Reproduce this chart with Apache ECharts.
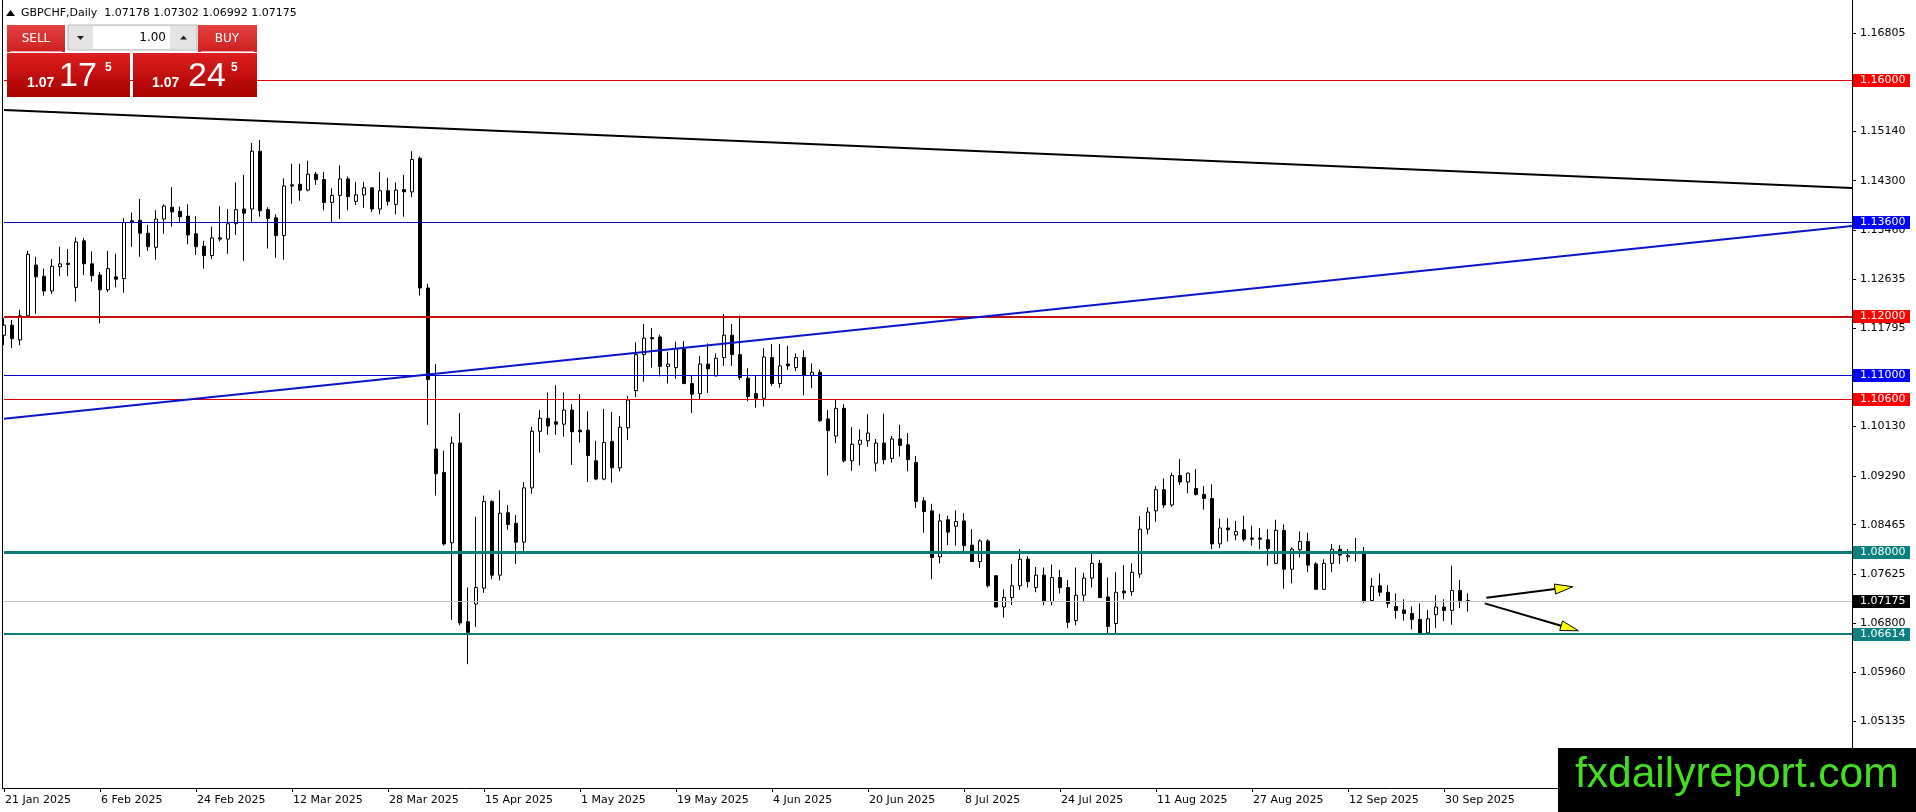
<!DOCTYPE html>
<html>
<head>
<meta charset="utf-8">
<script src="https://cdn.jsdelivr.net/npm/echarts@6/dist/echarts.min.js"></script>
<style>
html,body{margin:0;padding:0;background:#fff;overflow:hidden;}
#c{width:1916px;height:812px;}
</style>
</head>
<body>
<div id="c"></div>
<script>
// ---------- DATA ----------
const symbolTitle = 'GBPCHF,Daily  1.07178 1.07302 1.06992 1.07175';
const tradingDays = 184;   // 21 Jan 2025 .. 3 Oct 2025
const padBars = 48;        // empty chart shift on the right

const opens = [1.1168,1.1185,1.1160,1.1201,1.1287,1.1268,1.1243,1.1284,1.1290,1.1249,
1.1328,1.1289,1.1270,1.1245,1.1267,1.1264,1.1362,1.1363,1.1341,1.1317,
1.1365,1.1385,1.1378,1.1370,1.1340,1.1319,1.1303,1.1333,1.1331,1.1357,
1.1382,1.1382,1.1480,1.1381,1.1367,1.1337,1.1423,1.1424,1.1414,1.1441,
1.1432,1.1393,1.1405,1.1433,1.1395,1.1406,1.1418,1.1382,1.1413,1.1390,
1.1415,1.1411,1.1468,1.1248,1.0975,1.0935,1.0816,1.0985,1.0682,1.0712,
1.0739,1.0886,1.0761,1.0867,1.0849,1.0817,1.0909,1.1005,1.1027,1.1021,
1.1017,1.1041,1.1007,1.1007,1.0955,1.0924,1.0988,1.0943,1.1011,1.1074,
1.1135,1.1164,1.1165,1.1115,1.1113,1.1145,1.1086,1.1069,1.1119,1.1099,
1.1130,1.1168,1.1135,1.1095,1.1069,1.1061,1.1130,1.1086,1.1119,1.1113,
1.1130,1.1100,1.1105,1.1026,1.0997,1.1044,1.0955,1.0983,1.0989,1.0951,
1.0985,1.0959,1.0992,1.0982,1.0952,1.0887,1.0870,1.0792,1.0855,1.0844,
1.0853,1.0812,1.0784,1.0819,1.0760,1.0707,1.0723,1.0743,1.0788,1.0740,
1.0761,1.0716,1.0757,1.0740,1.0684,1.0727,1.0756,1.0781,1.0724,1.0679,
1.0734,1.0733,1.0763,1.0839,1.0870,1.0906,1.0880,1.0930,1.0919,1.0908,
1.0898,1.0891,1.0814,1.0841,1.0829,1.0838,1.0824,1.0824,1.0821,1.0781,
1.0837,1.0771,1.0804,1.0818,1.0780,1.0737,1.0781,1.0805,1.0792,1.0801,
1.0801,1.0718,1.0743,1.0732,1.0708,1.0702,1.0696,1.0686,1.0663,1.0694,
1.0707,1.0701,1.0735,1.07178];

const highs = [1.1197,1.1194,1.1211,1.1311,1.1301,1.1281,1.1297,1.1318,1.1314,1.1334,
1.1333,1.1310,1.1275,1.1311,1.1306,1.1366,1.1376,1.1399,1.1355,1.1380,
1.1390,1.1419,1.1386,1.1390,1.1370,1.1328,1.1352,1.1387,1.1382,1.1427,
1.1440,1.1494,1.1499,1.1385,1.1373,1.1434,1.1459,1.1459,1.1464,1.1445,
1.1445,1.1417,1.1456,1.1437,1.1428,1.1428,1.1419,1.1445,1.1435,1.1427,
1.1440,1.1480,1.1471,1.1255,1.1119,1.0972,1.0996,1.1036,1.0740,1.0860,
1.0896,1.0888,1.0905,1.0880,1.0863,1.0919,1.1013,1.1041,1.1071,1.1083,
1.1071,1.1051,1.1068,1.1039,1.0989,1.1043,1.1038,1.1031,1.1065,1.1156,
1.1187,1.1180,1.1169,1.1140,1.1157,1.1158,1.1099,1.1133,1.1154,1.1137,
1.1204,1.1187,1.1201,1.1112,1.1099,1.1146,1.1153,1.1153,1.1150,1.1137,
1.1143,1.1120,1.1110,1.1041,1.1059,1.1051,1.1012,1.1008,1.1034,1.0992,
1.1035,1.0997,1.1016,1.1002,1.0963,1.0893,1.0882,1.0865,1.0862,1.0871,
1.0866,1.0839,1.0822,1.0822,1.0761,1.0737,1.0780,1.0805,1.0793,1.0775,
1.0774,1.0779,1.0770,1.0753,1.0774,1.0765,1.0800,1.0787,1.0757,1.0766,
1.0778,1.0781,1.0861,1.0876,1.0912,1.0925,1.0935,1.0958,1.0935,1.0941,
1.0912,1.0915,1.0857,1.0858,1.0853,1.0862,1.0845,1.0841,1.0839,1.0855,
1.0847,1.0808,1.0835,1.0833,1.0783,1.0788,1.0814,1.0812,1.0805,1.0824,
1.0809,1.0756,1.0764,1.0744,1.0730,1.0720,1.0708,1.0713,1.0702,1.0727,
1.0720,1.0777,1.0753,1.07302];

const lows = [1.1151,1.1146,1.1151,1.1200,1.1204,1.1235,1.1238,1.1268,1.1268,1.1225,
1.1270,1.1259,1.1188,1.1241,1.1249,1.1240,1.1318,1.1301,1.1311,1.1296,
1.1340,1.1352,1.1359,1.1322,1.1304,1.1281,1.1297,1.1327,1.1306,1.1338,
1.1294,1.1358,1.1369,1.1315,1.1299,1.1296,1.1391,1.1396,1.1412,1.1423,
1.1380,1.1360,1.1365,1.1380,1.1389,1.1384,1.1377,1.1373,1.1388,1.1373,
1.1369,1.1402,1.1235,1.1016,1.0896,1.0811,1.0685,1.0676,1.0610,1.0673,
1.0731,1.0754,1.0752,1.0838,1.0780,1.0797,1.0899,1.0969,1.0999,1.0999,
1.0996,1.0948,1.0986,1.0919,1.0922,1.0922,1.0918,1.0937,1.0990,1.1063,
1.1089,1.1113,1.1098,1.1086,1.1094,1.1085,1.1036,1.1059,1.1070,1.1098,
1.1116,1.1116,1.1092,1.1056,1.1045,1.1047,1.1082,1.1079,1.1109,1.1107,
1.1066,1.1078,1.1021,1.0930,1.0985,1.0952,1.0938,1.0947,1.0979,1.0937,
1.0949,1.0952,1.0962,1.0937,1.0875,1.0833,1.0754,1.0781,1.0812,1.0811,
1.0802,1.0784,1.0773,1.0740,1.0706,1.0689,1.0710,1.0736,1.0740,1.0732,
1.0710,1.0710,1.0730,1.0671,1.0676,1.0716,1.0740,1.0722,1.0662,1.0662,
1.0720,1.0726,1.0756,1.0830,1.0851,1.0875,1.0877,1.0914,1.0900,1.0896,
1.0872,1.0805,1.0807,1.0818,1.0820,1.0818,1.0811,1.0805,1.0777,1.0780,
1.0738,1.0747,1.0791,1.0766,1.0736,1.0736,1.0766,1.0780,1.0784,1.0784,
1.0714,1.0717,1.0725,1.0706,1.0687,1.0684,1.0669,1.0660,1.0661,1.0671,
1.0683,1.0677,1.0705,1.06992];

const closes = [1.1185,1.1162,1.1201,1.1305,1.1267,1.1243,1.1285,1.1289,1.1288,1.1326,
1.1289,1.1269,1.1245,1.1281,1.1263,1.1359,1.1359,1.1341,1.1318,1.1365,
1.1387,1.1377,1.1369,1.1338,1.1318,1.1303,1.1333,1.1331,1.1357,1.1381,
1.1375,1.1480,1.1379,1.1366,1.1337,1.1421,1.1421,1.1414,1.1441,1.1432,
1.1393,1.1405,1.1433,1.1403,1.1406,1.1418,1.1382,1.1413,1.1395,1.1414,
1.1411,1.1466,1.1248,1.1093,1.0933,1.0814,1.0985,1.0680,1.0664,1.0740,
1.0886,1.0761,1.0866,1.0847,1.0817,1.0909,1.1005,1.1027,1.1014,1.1017,
1.1041,1.1004,1.1004,1.0964,1.0924,1.0986,1.0943,1.1012,1.1058,1.1135,
1.1163,1.1162,1.1115,1.1119,1.1145,1.1086,1.1068,1.1119,1.1111,1.1129,
1.1168,1.1135,1.1096,1.1064,1.1061,1.1131,1.1086,1.1116,1.1116,1.1130,
1.1100,1.1105,1.1023,1.1006,1.1044,1.0955,1.0983,1.0990,1.1002,1.0985,
1.0957,1.0992,1.0981,1.0957,1.0886,1.0869,1.0791,1.0853,1.0834,1.0852,
1.0811,1.0784,1.0819,1.0743,1.0707,1.0723,1.0743,1.0788,1.0750,1.0761,
1.0716,1.0757,1.0740,1.0681,1.0727,1.0756,1.0781,1.0723,1.0674,1.0732,
1.0731,1.0766,1.0839,1.0868,1.0906,1.0880,1.0930,1.0919,1.0934,1.0898,
1.0891,1.0814,1.0841,1.0838,1.0835,1.0822,1.0822,1.0822,1.0806,1.0837,
1.0771,1.0805,1.0818,1.0778,1.0737,1.0781,1.0805,1.0795,1.0794,1.0799,
1.0717,1.0742,1.0732,1.0713,1.0701,1.0696,1.0686,1.0662,1.0687,1.0707,
1.0701,1.0735,1.0718,1.07175];

const yTickValues = [1.16805,1.15970,1.15140,1.14300,1.13460,1.12635,1.11795,1.10960,
1.10130,1.09290,1.08465,1.07625,1.06800,1.05960,1.05135];
const xTickLabels = ['21 Jan 2025','6 Feb 2025','24 Feb 2025','12 Mar 2025','28 Mar 2025',
'15 Apr 2025','1 May 2025','19 May 2025','4 Jun 2025','20 Jun 2025','8 Jul 2025',
'24 Jul 2025','11 Aug 2025','27 Aug 2025','12 Sep 2025','30 Sep 2025'];
const xTickEvery = 12;

// horizontal price levels
const levelValues = [1.16000, 1.13600, 1.12000, 1.11000, 1.10600, 1.08000, 1.07175, 1.06614];
// trend lines: [startIndex, endIndex] and [startPrice, endPrice]
const trendIdx = [0, 231];
const trendBlackVals = [1.15499, 1.14176];
const trendBlueVals = [1.10261, 1.13531];
// yellow arrows: start/end bar position and price
const arrowFromIdx = [185.3, 185.1];
const arrowFromPrice = [1.07227, 1.07132];
const arrowToIdx = [196.1, 196.8];
const arrowToPrice = [1.07413, 1.06667];

// ---------- STYLES ----------
const levelStyles = [
  {line:'#e00000', w:1, box:'#ff0000'},
  {line:'#0000c8', w:1, box:'#0000ff'},
  {line:'#c81010', w:2, box:'#ff0000'},
  {line:'#0000c8', w:1, box:'#0000ff'},
  {line:'#e00000', w:1, box:'#ff0000'},
  {line:'#0a7d7a', w:3, box:'#0a8080'},
  {line:'#c0c0c0', w:1, box:'#000000'},
  {line:'#0a7d7a', w:2, box:'#0a8080'}
];

// categories: trading weekdays then empty shift slots
const categories = [];
(function(){
  const d = new Date(Date.UTC(2025, 0, 21));
  while (categories.length < tradingDays) {
    const wd = d.getUTCDay();
    if (wd !== 0 && wd !== 6) categories.push(d.toISOString().slice(0, 10));
    d.setUTCDate(d.getUTCDate() + 1);
  }
  for (let k = 0; k < padBars; k++) categories.push('shift' + k);
})();

const ohlc = opens.map((o, i) => [o, closes[i], lows[i], highs[i]]);
const isTick = (i) => i % xTickEvery === 0 && (i / xTickEvery) < xTickLabels.length;

const chart = echarts.init(document.getElementById('c'), null, {renderer: 'canvas', width: 1916, height: 812});
const FONT = 'DejaVu Sans';

chart.setOption({
  animation: false,
  backgroundColor: '#ffffff',
  grid: {left: 4, right: 64, top: 0, bottom: 24, show: false},
  xAxis: {
    type: 'category', data: categories, boundaryGap: false,
    axisLine: {show: true, onZero: false, lineStyle: {color: '#000', width: 1}},
    axisTick: {show: true, length: 4, interval: (i) => isTick(i), lineStyle: {color: '#000'}},
    axisLabel: {show: true, interval: (i) => isTick(i), align: 'left', margin: 7,
      color: '#000', fontFamily: FONT, fontSize: 11, padding: [0, 0, 0, 1],
      formatter: (v, i) => isTick(i) ? xTickLabels[i / xTickEvery] : ''},
    splitLine: {show: false}
  },
  yAxis: {
    type: 'value', position: 'right', min: 1.04, max: 1.17365, scale: true,
    axisLine: {show: true, lineStyle: {color: '#000', width: 1}},
    axisTick: {show: true, length: 4, customValues: yTickValues, lineStyle: {color: '#000'}},
    axisLabel: {show: true, customValues: yTickValues, margin: 8, color: '#000',
      fontFamily: FONT, fontSize: 11, formatter: (v) => Number(v).toFixed(5)},
    splitLine: {show: false}
  },
  series: [
    {
      type: 'candlestick', data: ohlc, barWidth: 4,
      itemStyle: {color: '#ffffff', color0: '#000000', borderColor: '#000000',
        borderColor0: '#000000', borderColorDoji: '#000000', borderWidth: 1},
      emphasis: {disabled: true},
      markLine: {
        silent: true, symbol: ['none', 'none'], animation: false, precision: 5,
        label: {show: false},
        data: levelValues.map((v, k) => ({yAxis: v,
          lineStyle: {color: levelStyles[k].line, width: levelStyles[k].w, type: 'solid'}}))
      }
    },
    {
      type: 'line', data: trendIdx.map((x, k) => [x, trendBlackVals[k]]),
      symbol: 'none', silent: true, lineStyle: {color: '#000', width: 2}, z: 5
    },
    {
      type: 'line', data: trendIdx.map((x, k) => [x, trendBlueVals[k]]),
      symbol: 'none', silent: true, lineStyle: {color: '#0a14c8', width: 2}, z: 5
    }
  ]
});

// ---------- overlays placed through the axes ----------
function toPx(xi, price) {
  const i0 = Math.floor(xi);
  const a = chart.convertToPixel({xAxisIndex: 0, yAxisIndex: 0}, [i0, price]);
  const b = chart.convertToPixel({xAxisIndex: 0, yAxisIndex: 0}, [i0 + 1, price]);
  return [a[0] + (b[0] - a[0]) * (xi - i0), a[1]];
}
const yAxisX = chart.convertToPixel({xAxisIndex: 0}, categories.length - 1);
const g = [];

// level price boxes on the price scale
levelValues.forEach((v, k) => {
  const y = chart.convertToPixel({yAxisIndex: 0}, v);
  g.push({type: 'rect', z: 50, shape: {x: yAxisX + 1, y: Math.round(y) - 6, width: 57, height: 13},
    style: {fill: levelStyles[k].box}});
  g.push({type: 'text', z: 51, x: yAxisX + 8, y: Math.round(y) + 0.5,
    style: {text: v.toFixed(5), fill: '#fff', font: '11px "DejaVu Sans"', textAlign: 'left', textVerticalAlign: 'middle'}});
});

// arrows
for (let k = 0; k < arrowFromIdx.length; k++) {
  const p0 = toPx(arrowFromIdx[k], arrowFromPrice[k]);
  const p1 = toPx(arrowToIdx[k], arrowToPrice[k]);
  const dx = p1[0] - p0[0], dy = p1[1] - p0[1];
  const len = Math.hypot(dx, dy), ux = dx / len, uy = dy / len;
  const hl = 18, hw = 5;
  const bx = p1[0] - ux * hl, by = p1[1] - uy * hl;
  g.push({type: 'line', z: 40, shape: {x1: p0[0], y1: p0[1], x2: bx, y2: by},
    style: {stroke: '#000', lineWidth: 2}});
  g.push({type: 'polygon', z: 41, shape: {points: [[p1[0], p1[1]],
      [bx - uy * hw, by + ux * hw], [bx + uy * hw, by - ux * hw]]},
    style: {fill: '#ffff00', stroke: '#000', lineWidth: 1}});
}

// left frame line
const xAxisY = chart.convertToPixel({yAxisIndex: 0}, 1.04);
g.push({type: 'line', z: 30, shape: {x1: 2.5, y1: 0, x2: 2.5, y2: xAxisY}, style: {stroke: '#000', lineWidth: 1}});
g.push({type: 'line', z: 30, shape: {x1: 2, y1: xAxisY + 0.5, x2: 5, y2: xAxisY + 0.5}, style: {stroke: '#000', lineWidth: 1}});

// title
g.push({type: 'polygon', z: 60, shape: {points: [[6, 16], [15, 16], [10.5, 10]]}, style: {fill: '#000'}});
g.push({type: 'text', z: 60, x: 21, y: 13,
  style: {text: symbolTitle, fill: '#000', font: '11px "DejaVu Sans"', textVerticalAlign: 'middle'}});

// one-click trading panel
const redTop = {type: 'linear', x: 0, y: 0, x2: 0, y2: 1, colorStops: [{offset: 0, color: '#e64040'}, {offset: 1, color: '#cc2020'}]};
const redLow = {type: 'linear', x: 0, y: 0, x2: 0, y2: 1, colorStops: [{offset: 0, color: '#dd1f1f'}, {offset: 1, color: '#a80000'}]};
g.push({type: 'rect', z: 60, shape: {x: 7, y: 25, width: 58, height: 27}, style: {fill: redTop}});
g.push({type: 'rect', z: 60, shape: {x: 198, y: 25, width: 59, height: 27}, style: {fill: redTop}});
g.push({type: 'line', z: 61, shape: {x1: 10, y1: 51.5, x2: 62, y2: 51.5}, style: {stroke: 'rgba(255,200,200,0.8)', lineWidth: 1}});
g.push({type: 'line', z: 61, shape: {x1: 201, y1: 51.5, x2: 254, y2: 51.5}, style: {stroke: 'rgba(255,200,200,0.8)', lineWidth: 1}});
g.push({type: 'text', z: 62, x: 36, y: 39, style: {text: 'SELL', fill: '#fff', font: '12px "DejaVu Sans"', textAlign: 'center', textVerticalAlign: 'middle'}});
g.push({type: 'text', z: 62, x: 227, y: 39, style: {text: 'BUY', fill: '#fff', font: '12px "DejaVu Sans"', textAlign: 'center', textVerticalAlign: 'middle'}});
g.push({type: 'rect', z: 60, shape: {x: 68, y: 25, width: 129, height: 25}, style: {fill: '#e4e4e4', stroke: '#b8b8b8', lineWidth: 1}});
g.push({type: 'rect', z: 61, shape: {x: 93, y: 26, width: 77, height: 23}, style: {fill: '#ffffff'}});
g.push({type: 'polygon', z: 62, shape: {points: [[77, 36], [84, 36], [80.5, 40]]}, style: {fill: '#222'}});
g.push({type: 'polygon', z: 62, shape: {points: [[180, 39.5], [187, 39.5], [183.5, 35.5]]}, style: {fill: '#222'}});
g.push({type: 'text', z: 62, x: 166, y: 38, style: {text: '1.00', fill: '#000', font: '12px "DejaVu Sans"', textAlign: 'right', textVerticalAlign: 'middle'}});
g.push({type: 'rect', z: 60, shape: {x: 7, y: 53, width: 123, height: 44}, style: {fill: redLow}});
g.push({type: 'rect', z: 60, shape: {x: 133, y: 53, width: 124, height: 44}, style: {fill: redLow}});
const bigTexts = [
  {t: '1.07', x: 27, y: 83.2, f: 'bold 14px "Liberation Sans"'},
  {t: '17', x: 59, y: 76.2, f: '34px "Liberation Sans"'},
  {t: '5', x: 105, y: 67.8, f: 'bold 12px "Liberation Sans"'},
  {t: '1.07', x: 152, y: 83.2, f: 'bold 14px "Liberation Sans"'},
  {t: '24', x: 188, y: 76.2, f: '34px "Liberation Sans"'},
  {t: '5', x: 231, y: 67.8, f: 'bold 12px "Liberation Sans"'}
];
bigTexts.forEach(b => g.push({type: 'text', z: 62, x: b.x, y: b.y,
  style: {text: b.t, fill: '#fff', font: b.f, textAlign: 'left', textVerticalAlign: 'middle'}}));

// watermark
g.push({type: 'rect', z: 70, shape: {x: 1558, y: 748, width: 358, height: 64}, style: {fill: '#000'}});
g.push({type: 'text', z: 71, x: 1575, y: 775.3,
  style: {text: 'fxdailyreport.com', fill: '#44dd22', font: '42.5px "Liberation Sans"', textAlign: 'left', textVerticalAlign: 'middle'}});

chart.setOption({graphic: {elements: g}});
</script>
</body>
</html>
